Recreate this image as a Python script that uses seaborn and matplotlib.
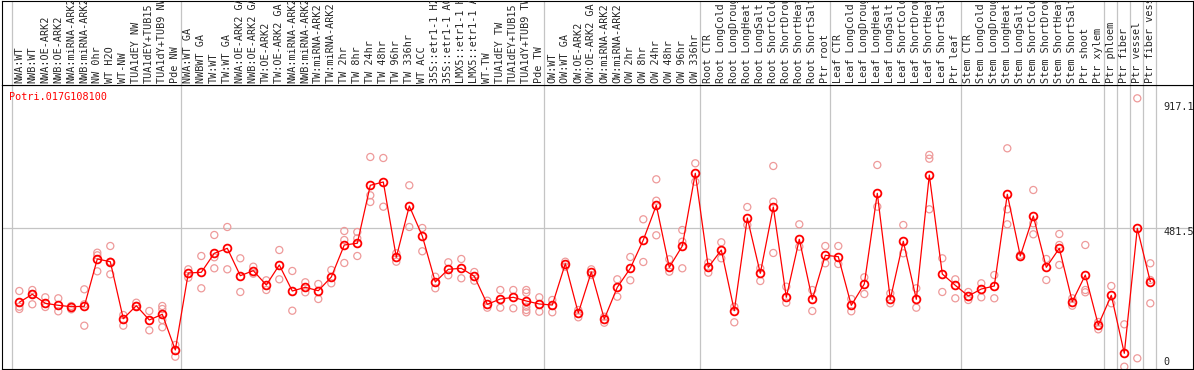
"""eFP-style expression profile for one poplar gene across sample groups."""

import matplotlib
matplotlib.use("Agg")
import matplotlib.pyplot as plt
import matplotlib.transforms as mtransforms
import pandas as pd
import seaborn as sns

GENE = "Potri.017G108100"

SAMPLES = [
    "NWA:WT", "NWB:WT", "NWA:OE-ARK2", "NWB:OE-ARK2", "NWA:miRNA-ARK2",
    "NWB:miRNA-ARK2", "NW 0hr", "WT H2O", "WT-NW", "TUA1dEY NW",
    "TUA1dEY+TUB15", "TUA1dY+TUB9 NW", "Pde NW", "NWA:WT GA", "NWBWT GA",
    "TW:WT", "TW:WT GA", "NWA:OE-ARK2 GA", "NWB:OE-ARK2 GA", "TW:OE-ARK2",
    "TW:OE-ARK2 GA", "NWA:miRNA-ARK2", "NWB:miRNA-ARK2", "TW:miRNA-ARK2",
    "TW:miRNA-ARK2 GA", "TW 2hr", "TW 8hr", "TW 24hr", "TW 48hr", "TW 96hr",
    "TW 336hr", "WT ACC", "35S::etr1-1 H2O", "35S::etr1-1 ACC",
    "LMX5::etr1-1 H2O", "LMX5::etr1-1 ACC", "WT-TW", "TUA1dEY TW",
    "TUA1dEY+TUB15", "TUA1dY+TUB9 TW", "Pde TW", "OW:WT", "OW:WT GA",
    "OW:OE-ARK2", "OW:OE-ARK2 GA", "OW:miRNA-ARK2", "OW:miRNA-ARK2",
    "OW 2hr", "OW 8hr", "OW 24hr", "OW 48hr", "OW 96hr", "OW 336hr",
    "Root CTR", "Root LongCold", "Root LongDrought", "Root LongHeat",
    "Root LongSalt", "Root ShortCold", "Root ShortDrought", "Root ShortHeat",
    "Root ShortSalt", "Ptr root", "Leaf CTR", "Leaf LongCold",
    "Leaf LongDrought", "Leaf LongHeat", "Leaf LongSalt", "Leaf ShortCold",
    "Leaf ShortDrought", "Leaf ShortHeat", "Leaf ShortSalt", "Ptr leaf",
    "Stem CTR", "Stem LongCold", "Stem LongDrought", "Stem LongHeat",
    "Stem LongSalt", "Stem ShortCold", "Stem ShortDrought", "Stem ShortHeat",
    "Stem ShortSalt", "Ptr shoot", "Ptr xylem", "Ptr phloem", "Ptr fiber",
    "Ptr vessel", "Ptr fiber vessel",
]

MEANS = [
    233.6, 260.4, 230.2, 223.5, 218.8, 220.2, 378.7, 369.6, 178.6, 222.2,
    174.3, 193.4, 73.7, 331.7, 334.1, 397.8, 414.5, 322.7, 339.5, 291.5,
    358.6, 271.4, 283.8, 272.4, 318.3, 425.6, 431.3, 625.6, 636.7, 384.4,
    556.3, 455.7, 301.6, 344.1, 347.5, 320.7, 226.9, 244.6, 250.3, 237.9,
    227.9, 224.5, 362.9, 197.7, 335.1, 177.6, 283.8, 347.5, 442.3, 558.6,
    350.8, 422.2, 665.8, 350.8, 408.8, 205.4, 516.1, 330.7, 552.9, 250.3,
    444.7, 243.6, 391.1, 386.4, 223.5, 294.9, 598.8, 243.6, 438.0, 243.6,
    660.1, 328.4, 290.5, 254.7, 278.1, 288.2, 595.5, 388.7, 522.8, 350.8,
    414.5, 235.6, 325.0, 157.5, 257.0, 62.7, 481.5, 302.6,
]

REPLICATES = [
    [271.4, 218.8, 211.1], [274.8, 226.9, 261.4], [250.3, 217.8],
    [247.0, 203.4], [221.2, 210.1], [277.1, 226.9, 155.2],
    [399.8, 391.0, 337.4], [422.2, 327.4, 369.6], [191.0, 155.2],
    [232.2, 221.2], [204.4, 139.7], [221.2, 211.1, 174.3, 149.8],
    [90.5, 51.3], [344.1, 316.0], [388.7, 280.5], [459.1, 384.4, 347.5],
    [485.9, 344.1], [381.0, 268.1], [352.9, 329.4], [307.3, 274.8],
    [408.8, 310.6], [338.5, 205.4], [300.6, 267.1], [294.9, 244.6],
    [341.8, 297.2], [472.5, 442.3, 365.3], [469.1, 448.0, 388.7],
    [720.5, 592.1, 569.7], [717.1, 553.9], [397.8, 369.6], [625.6, 485.9],
    [482.5, 404.5], [319.3, 280.5], [367.6, 324.0], [378.7, 314.0],
    [335.1, 305.9], [238.9, 215.5], [274.8, 215.5], [274.8, 213.5],
    [274.8, 265.7, 218.8, 207.8, 200.1], [250.3, 202.1], [241.3, 200.1],
    [369.6, 352.9], [207.8, 183.3], [344.1, 325.0], [185.3, 165.2],
    [310.6, 252.3], [385.4, 307.3], [511.7, 368.6], [645.7, 574.0, 458.1],
    [377.7, 336.1], [475.8, 436.6, 347.5], [699.4, 637.7], [366.3, 332.8],
    [434.6, 381.0], [218.8, 166.5], [552.9, 492.6], [347.5, 304.9],
    [690.3, 570.7, 398.8], [285.8, 232.2], [494.9, 419.9], [274.8, 204.4],
    [422.2, 364.3], [422.2, 361.9], [244.6, 203.4], [317.3, 261.4],
    [693.7, 553.9], [263.7, 230.2], [492.6, 397.8], [280.5, 215.5],
    [727.2, 714.8, 545.2], [381.0, 268.1], [310.6, 247.0], [241.3, 268.1],
    [297.2, 250.3], [325.0, 247.0], [749.6, 545.2, 494.9], [392.1, 385.4],
    [609.9, 498.3, 461.4], [378.7, 308.3], [462.4, 425.6, 358.6],
    [247.0, 222.2], [425.6, 274.8, 267.1], [143.1, 167.6], [288.2, 230.2],
    [159.8, 17.8], [917.1, 45.9], [364.3, 308.3, 230.2],
]

# separators are drawn just after these sample numbers
GROUP_ENDS = [0, 13, 41, 53, 63, 73, 84, 85, 86, 87, 88]
MID_LINE = 481.5
Y_LABELS = ["917.1", "481.5", "0"]

RED = "#ff0000"
PINK = "#ee9a9a"
GREY = "#c4c4c4"


def main() -> None:
    sns.set_style("white")
    plt.rcParams["font.family"] = ["DejaVu Sans Mono"]

    W, H = 1194, 370
    fig = plt.figure(figsize=(W / 100, H / 100), dpi=100)
    left, right = 1.7, 1192.7
    ax = fig.add_axes([left / W, 0.7 / H, (right - left) / W, 284.3 / H])
    lab = fig.add_axes([left / W, 285.0 / H, (right - left) / W, 84.5 / H], sharex=ax)

    pos = list(range(1, len(SAMPLES) + 1))
    reps = pd.DataFrame(
        [(p, v) for p, vals in zip(pos, REPLICATES) for v in vals],
        columns=["pos", "value"],
    )
    means = pd.DataFrame({"pos": pos, "value": MEANS})

    for a in (ax, lab):
        for g in GROUP_ENDS:
            a.axvline(g + 0.4, color=GREY, lw=0.9, zorder=0)
    ax.axhline(MID_LINE, color=GREY, lw=0.9, zorder=0)

    sns.scatterplot(
        data=reps, x="pos", y="value", ax=ax, marker="o", s=26,
        facecolors="none", edgecolors=PINK, linewidths=0.9, zorder=2,
    )
    sns.lineplot(
        data=means, x="pos", y="value", ax=ax, color=RED, linewidth=0.9,
        marker="o", markersize=5.6, markerfacecolor="none",
        markeredgecolor=RED, markeredgewidth=1.3, zorder=3,
    )

    ax.set_xlim(1 - 17.6 / 13, 1 + 1173.4 / 13)
    ax.set_ylim(9.06, 961.7)
    lab.set_ylim(0, 1)

    for a in (ax, lab):
        a.set_xticks([])
        a.set_yticks([])
        a.set_xlabel("")
        a.set_ylabel("")
        for sp in a.spines.values():
            sp.set_visible(True)
            sp.set_color("black")
            sp.set_linewidth(0.8)

    trans = mtransforms.blended_transform_factory(lab.transData, lab.transAxes)
    for p, name in zip(pos, SAMPLES):
        lab.text(p, 2 / 84.5, name, rotation=90, ha="center", va="bottom",
                 fontsize=7.3, transform=trans, clip_on=True)

    ax.text(7.3 / 1191, 0.958, GENE, color=RED, fontsize=7.3,
            ha="left", va="center", transform=ax.transAxes)
    for txt, yf in zip(Y_LABELS, [0.9237, 0.484, 0.0267]):
        ax.text(0.9753, yf, txt, fontsize=7.3, ha="left", va="center",
                transform=ax.transAxes)

    fig.savefig("out.png", dpi=100)


if __name__ == "__main__":
    main()
